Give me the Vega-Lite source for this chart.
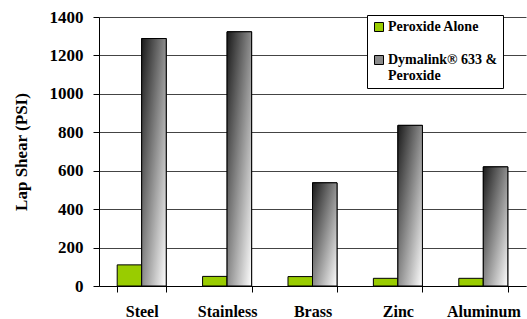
{
  "$schema": "https://vega.github.io/schema/vega-lite/v6.json",
  "autosize": "none",
  "width": 427,
  "height": 269,
  "padding": {"left": 99, "top": 17, "right": 1, "bottom": 33},
  "background": "white",
  "config": {"view": {"stroke": null}},
  "data": {
    "values": [
      {"metal": "Steel", "series": "Peroxide Alone", "psi": 110},
      {"metal": "Steel", "series": "Dymalink® 633 & Peroxide", "psi": 1288},
      {"metal": "Stainless", "series": "Peroxide Alone", "psi": 50},
      {"metal": "Stainless", "series": "Dymalink® 633 & Peroxide", "psi": 1323},
      {"metal": "Brass", "series": "Peroxide Alone", "psi": 49},
      {"metal": "Brass", "series": "Dymalink® 633 & Peroxide", "psi": 537},
      {"metal": "Zinc", "series": "Peroxide Alone", "psi": 40},
      {"metal": "Zinc", "series": "Dymalink® 633 & Peroxide", "psi": 836},
      {"metal": "Aluminum", "series": "Peroxide Alone", "psi": 40},
      {"metal": "Aluminum", "series": "Dymalink® 633 & Peroxide", "psi": 620}
    ]
  },
  "encoding": {
    "x": {
      "field": "metal", "type": "nominal", "sort": null,
      "scale": {"paddingInner": 0.426, "paddingOuter": 0.213},
      "axis": {
        "title": null, "labelAngle": 0, "tickBand": "extent",
        "domainColor": "black", "tickColor": "black", "tickSize": 6,
        "labelFont": "Liberation Serif", "labelFontWeight": "bold", "labelFontSize": 16,
        "labelColor": "black", "labelPadding": 11, "grid": false
      }
    },
    "xOffset": {
      "field": "series", "type": "nominal",
      "sort": ["Peroxide Alone", "Dymalink® 633 & Peroxide"],
      "scale": {"paddingInner": 0, "paddingOuter": 0}
    },
    "y": {
      "field": "psi", "type": "quantitative",
      "scale": {"domain": [0, 1400], "nice": false},
      "axis": {
        "title": "Lap Shear (PSI)", "values": [0, 200, 400, 600, 800, 1000, 1200, 1400], "format": "d",
        "grid": true, "gridColor": "#444444", "gridWidth": 1,
        "domainColor": "black", "tickColor": "black", "tickSize": 6,
        "labelFont": "Liberation Serif", "labelFontWeight": "bold", "labelFontSize": 17,
        "labelColor": "black", "labelPadding": 10,
        "titleFont": "Liberation Serif", "titleFontWeight": "bold", "titleFontSize": 17,
        "titleColor": "black", "titlePadding": 19
      }
    }
  },
  "layer": [
    {
      "mark": {"type": "bar", "stroke": "black", "strokeWidth": 1},
      "encoding": {
        "color": {
          "field": "series", "type": "nominal",
          "scale": {"domain": ["Peroxide Alone", "Dymalink® 633 & Peroxide"], "range": ["#99cc00", "#8a8a8a"]},
          "legend": {
            "title": null, "orient": "none", "legendX": 268, "legendY": -2,
            "strokeColor": "black", "fillColor": "white",
            "padding": 5, "rowPadding": 19,
            "symbolType": "square", "symbolSize": 81, "symbolStrokeColor": "black", "symbolStrokeWidth": 1,
            "labelFont": "Liberation Serif", "labelFontWeight": "bold", "labelFontSize": 14,
            "labelColor": "black", "labelOffset": 2, "labelLimit": 200,
            "labelExpr": "datum.label == 'Dymalink® 633 & Peroxide' ? ['Dymalink® 633 &', 'Peroxide'] : datum.label"
          }
        }
      }
    },
    {
      "transform": [{"filter": "datum.series == 'Dymalink® 633 & Peroxide'"}],
      "mark": {
        "type": "bar", "stroke": "black", "strokeWidth": 1,
        "fill": {
          "gradient": "linear", "x1": 0, "y1": 0, "x2": 1, "y2": 1,
          "stops": [{"offset": 0, "color": "#1a1a1a"}, {"offset": 0.5, "color": "#8c8c8c"}, {"offset": 1, "color": "#ffffff"}]
        }
      },
      "encoding": {}
    }
  ]
}
